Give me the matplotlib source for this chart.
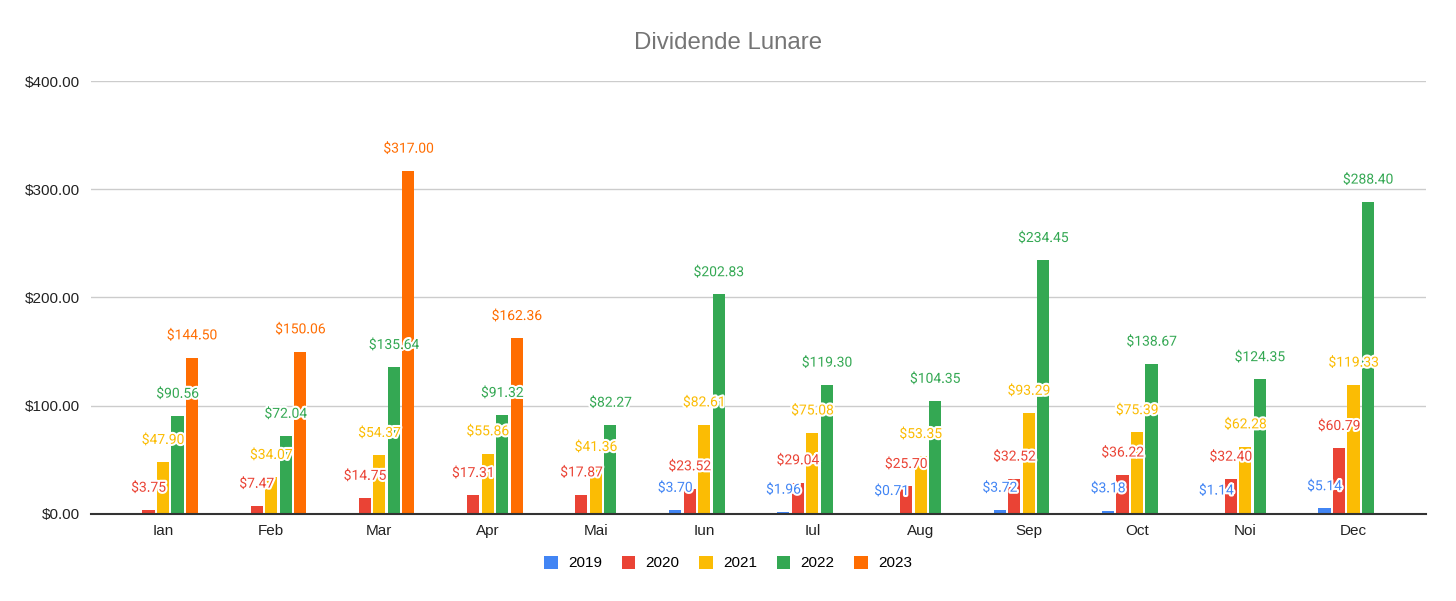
import numpy as np
from matplotlib import pyplot as plt
import matplotlib.patheffects as pe

# Dividende lunare pe ani
luni = ['Ian', 'Feb', 'Mar', 'Apr', 'Mai', 'Iun', 'Iul', 'Aug', 'Sep', 'Oct', 'Noi', 'Dec']
ani = ['2019', '2020', '2021', '2022', '2023']
d2019 = [0, 0, 0, 0, 0, 3.70, 1.96, 0.71, 3.72, 3.18, 1.14, 5.14]
d2020 = [3.75, 7.47, 14.75, 17.31, 17.87, 23.52, 29.04, 25.70, 32.52, 36.22, 32.40, 60.79]
d2021 = [47.90, 34.07, 54.37, 55.86, 41.36, 82.61, 75.08, 53.35, 93.29, 75.39, 62.28, 119.33]
d2022 = [90.56, 72.04, 135.64, 91.32, 82.27, 202.83, 119.30, 104.35, 234.45, 138.67, 124.35, 288.40]
d2023 = [144.50, 150.06, 317.00, 162.36, 0, 0, 0, 0, 0, 0, 0, 0]
yticks = [0, 100, 200, 300, 400]

serii = [d2019, d2020, d2021, d2022, d2023]
culori = ['#4285F4', '#EA4335', '#FBBC04', '#34A853', '#FF6D01']

fig = plt.figure(figsize=(14.56, 6.01), dpi=100)
ax = fig.add_axes([0.0625, 0.1448, 0.9169, 0.7204])

x = np.arange(len(luni))
pas = 0.134
latime = 0.112

for i, (an, vals, c) in enumerate(zip(ani, serii, culori)):
    pos = x + (i - 2) * pas
    ax.bar(pos, vals, width=latime, color=c, label=an, zorder=3)
    for px, v in zip(pos, vals):
        if v == 0:
            continue
        ax.annotate('${:,.2f}'.format(v), (px, v), xytext=(0, 16), textcoords='offset points',
                    ha='center', va='center', color=c, fontsize=10, family='Roboto', zorder=5,
                    path_effects=[pe.withStroke(linewidth=3, foreground='white')])

ax.set_xlim(-0.665, 11.67)
ax.set_ylim(0, 400)
ax.set_xticks(x)
ax.set_xticklabels(luni, fontsize=11, family='Liberation Sans', color='#222222')
ax.set_yticks(yticks)
ax.set_yticklabels(['${:.2f}'.format(v) for v in yticks], fontsize=11, family='Liberation Sans', color='#222222')
ax.tick_params(length=0)
ax.tick_params(axis='x', pad=7)
ax.tick_params(axis='y', pad=8)
ax.grid(axis='y', color='#cccccc', linewidth=1, zorder=0)
for s in ['top', 'right', 'left']:
    ax.spines[s].set_visible(False)
ax.spines['bottom'].set_color('#333333')
ax.spines['bottom'].set_linewidth(1.5)
ax.spines['bottom'].set_zorder(4)

fig.text(0.5, 0.928, 'Dividende Lunare', ha='center', va='center', fontsize=17.3,
         family='Liberation Sans', color='#757575')

leg = fig.legend(loc='center', bbox_to_anchor=(0.5, 0.063), ncol=5, frameon=False,
                 prop={'family': 'Liberation Sans', 'size': 11}, handlelength=0.9,
                 handleheight=0.9, handletextpad=0.65, columnspacing=1.3)

fig.savefig('out.png', dpi=100)
